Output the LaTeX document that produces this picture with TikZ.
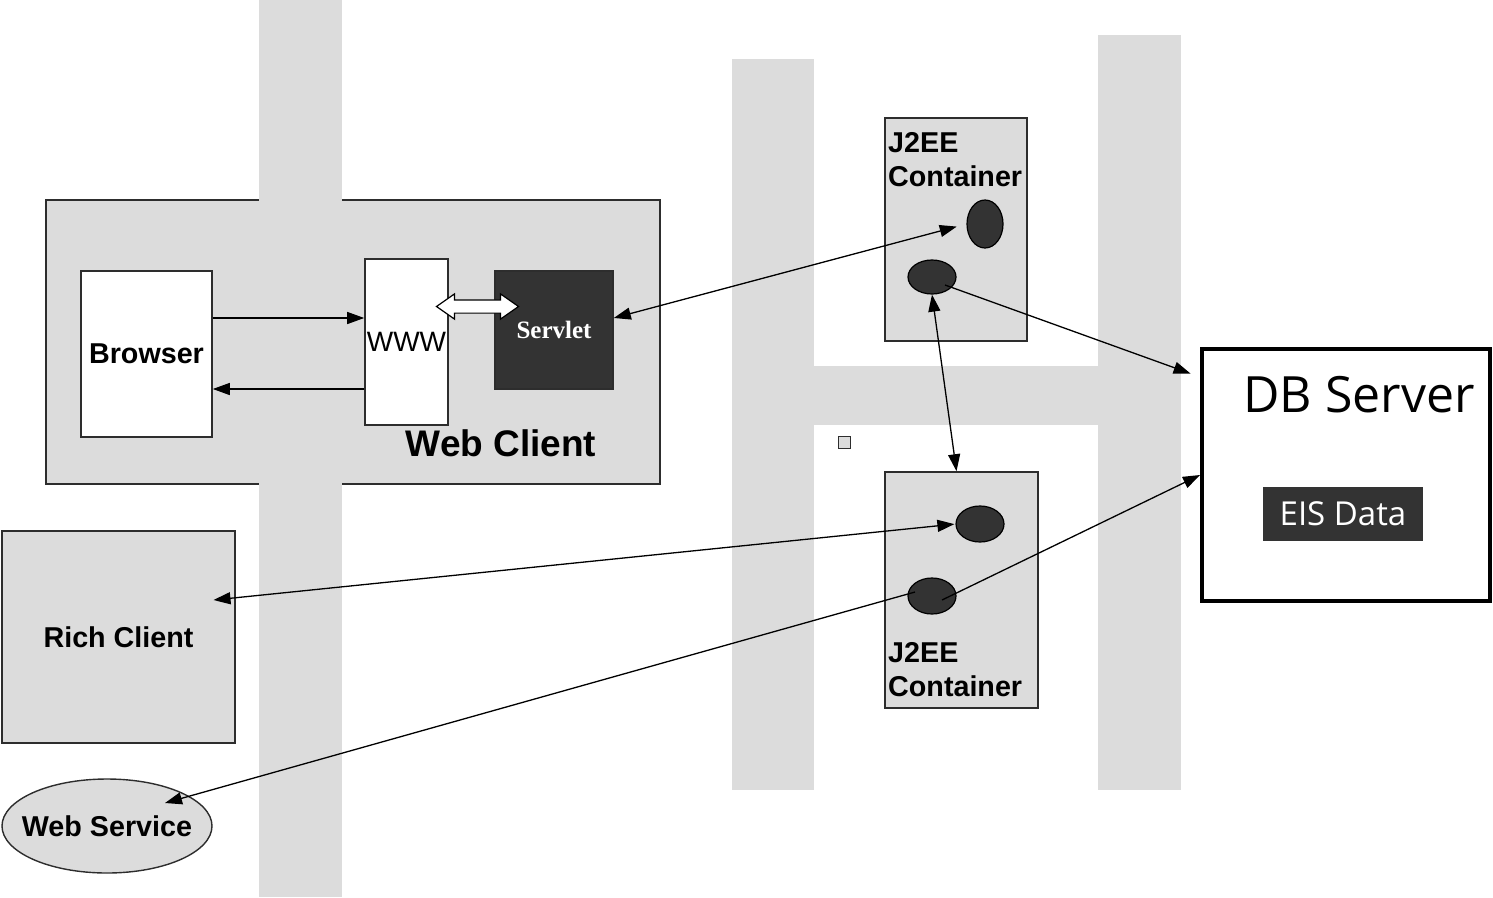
\documentclass[tikz,border=0pt]{standalone}
\usepackage{fontspec}
\setmainfont{Liberation Sans}
\newfontfamily\serfont{Liberation Serif}
\newfontfamily\dbfont{Open Sans}
\usetikzlibrary{shapes.geometric,shapes.arrows,arrows.meta,calc}
\definecolor{bargray}{RGB}{220,220,220}
\definecolor{darkfill}{RGB}{51,51,51}
\definecolor{edgegray}{RGB}{45,45,45}
\begin{document}
\begin{tikzpicture}[x=1pt,y=-1pt,
  box/.style={rectangle,draw=edgegray,line width=1.6pt,inner sep=0pt},
  grayfill/.style={fill=bargray},
  blob/.style={ellipse,draw=black,line width=1.2pt,fill=darkfill,inner sep=0pt},
  lbl/.style={font=\fontsize{28.7}{34}\selectfont\bfseries,inner sep=0pt},
  arr/.style={line width=1.3pt,-{Triangle[length=17pt,width=12pt]}},
  biarr/.style={line width=1.3pt,{Triangle[length=17pt,width=12pt]}-{Triangle[length=17pt,width=12pt]}}]
\useasboundingbox (0,0) rectangle (1493,897);
% Web client container
\node[box,grayfill,minimum width=614pt,minimum height=284pt] (webclient) at (353,342) {};
% grey bars
\fill[bargray] (259,0) rectangle (342,897);
\fill[bargray] (732,59) rectangle (814,790);
\fill[bargray] (1098,35) rectangle (1181,790);
\fill[bargray] (814,366) rectangle (1098,425);
% web client parts
\node[box,fill=white,minimum width=131pt,minimum height=166pt,lbl] (browser) at (146.5,354) {Browser};
\node[box,fill=white,minimum width=83pt,minimum height=166pt,inner sep=0pt,font=\fontsize{28}{34}\selectfont] (www) at (406.5,342) {WWW};
\node[box,fill=darkfill,minimum width=118pt,minimum height=118pt,text=white,font=\fontsize{25}{30}\selectfont\serfont\bfseries] (servlet) at (554,330) {Servlet};
\node[double arrow,draw=black,line width=1.2pt,fill=white,inner sep=6pt,minimum height=82pt,double arrow head extend=6pt,double arrow tip angle=70] (link) at (477.5,306.5) {};
\node[lbl,font=\fontsize{37}{44}\selectfont\bfseries,anchor=base] (wctitle) at (501,456) {Web Client};
\draw[arr] ([yshift=36pt]browser.east) -- ([yshift=36pt]browser.east -| www.west);
\draw[arr] ([yshift=-35pt]browser.east -| www.west) -- ([yshift=-35pt]browser.east);
% J2EE containers
\node[box,grayfill,minimum width=142pt,minimum height=223pt] (c1) at (956,229.5) {};
\node[lbl,anchor=base west] (c1a) at (888,152) {J2EE};
\node[lbl,anchor=base west] (c1b) at (888,186) {Container};
\node[blob,minimum width=36pt,minimum height=48pt] (e1) at (985,224) {};
\node[blob,minimum width=48pt,minimum height=34pt] (e2) at (932,277) {};
\node[box,grayfill,minimum width=153pt,minimum height=236pt] (c2) at (961.5,590) {};
\node[lbl,anchor=base west] (c2a) at (888,662) {J2EE};
\node[lbl,anchor=base west] (c2b) at (888,696) {Container};
\node[blob,minimum width=48pt,minimum height=36pt] (e3) at (980,524) {};
\node[blob,minimum width=48pt,minimum height=36pt] (e4) at (932,596) {};
\node[rectangle,draw=edgegray,line width=1pt,fill=bargray,minimum size=12pt,inner sep=0pt] (sq) at (844,442) {};
% DB server
\node[rectangle,draw=black,line width=4pt,fill=white,minimum width=288pt,minimum height=252pt,inner sep=0pt] (db) at (1346,475) {};
\node[anchor=base,inner sep=0pt,font=\fontsize{50}{60}\selectfont\dbfont] (dbtitle) at (1359,412) {DB Server};
\node[rectangle,fill=darkfill,minimum width=160pt,minimum height=54pt,inner sep=0pt,text=white,font=\fontsize{33}{40}\selectfont\dbfont] (eis) at (1343,514) {EIS Data};
% clients
\node[box,grayfill,minimum width=233pt,minimum height=212pt,lbl] (rich) at (118.5,637) {Rich Client};
\node[ellipse,draw=edgegray,line width=1.4pt,fill=bargray,minimum width=210pt,minimum height=94pt,inner sep=0pt,lbl] (ws) at (107,826) {\makebox[0pt]{Web Service}};
% connectors
\draw[biarr,shorten >=10pt] ([yshift=12pt]servlet.east) -- (e1.west);
\draw[arr,shorten >=10pt] ($(e2.center)+(13,8)$) -- ([yshift=98pt]db.west);
\draw[biarr] (e2.south) -- ($(c2.north)+(-5,0)$);
\draw[biarr,shorten >=1pt] ($(rich.center)+(95,-37)$) -- (e3.west);
\draw[arr] ($(e4.center)+(-17,-4)$) -- ($(ws.center)+(58,-23)$);
\draw[arr] ($(e4.center)+(10,4)$) -- (db.west);
\end{tikzpicture}
\end{document}
